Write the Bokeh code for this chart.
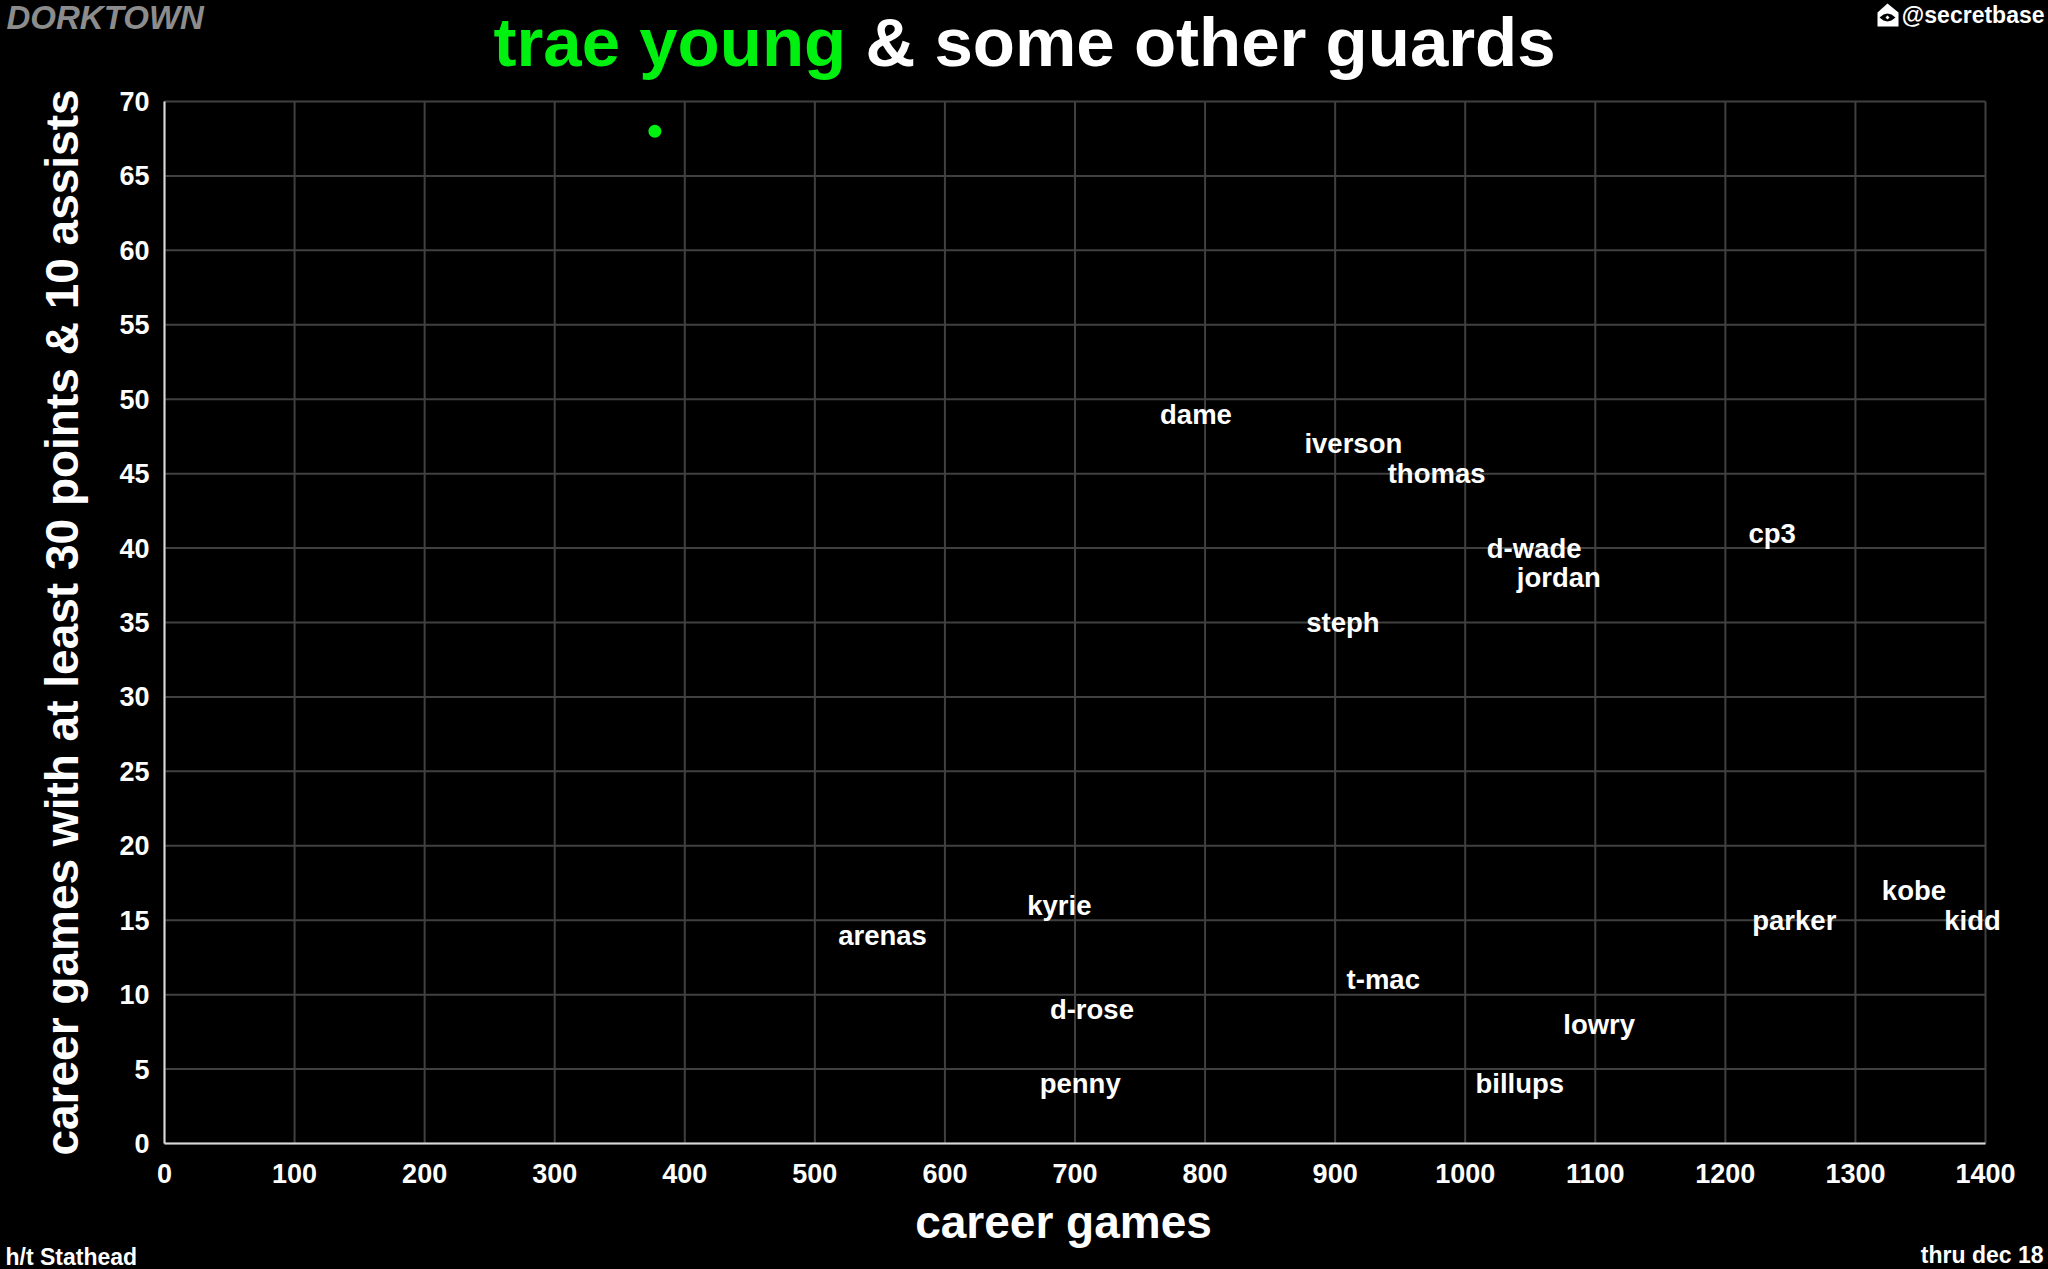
from bokeh.plotting import figure
from bokeh.models import ColumnDataSource, FixedTicker, Label, LabelSet, PolyAnnotation, Range1d
from bokeh.core.properties import value
from bokeh.embed import file_html
from bokeh.resources import INLINE

names = ["dame", "iverson", "thomas", "d-wade", "jordan", "cp3", "steph", "kyrie", "arenas",
         "kobe", "parker", "kidd", "t-mac", "d-rose", "lowry", "penny", "billups"]
career_games = [793, 914, 978, 1053, 1072, 1236, 906, 688, 552, 1345, 1253, 1390, 937, 713, 1103, 704, 1042]
games_30_10 = [49, 47, 45, 40, 38, 41, 35, 16, 14, 17, 15, 15, 11, 9, 8, 4, 4]
trae_games = [377]
trae_30_10 = [68]
x_ticks = list(range(0, 1401, 100))
y_ticks = list(range(0, 71, 5))

FONT = "Liberation Sans"
W, H = 2048, 1269
# The plot area inside the page; the frame itself fills the page so that the
# texts around the plot are not clipped by it.
LEFT, TOP, PW, PH = 164, 101, 1821, 1042
XMAX, YMAX = x_ticks[-1], y_ticks[-1]
GREEN = "#00f010"
GRID = "#404040"
AXIS = "#d9d9d9"
BASELINE_SHIFT = 0.36  # Label draws "alphabetic" text this share of its size below the anchor

x_range = Range1d(-LEFT * XMAX / PW, (W - LEFT) * XMAX / PW)
y_range = Range1d(-(H - TOP - PH) * YMAX / PH, (TOP + PH) * YMAX / PH)

p = figure(width=W, height=H, output_backend="svg", toolbar_location=None,
           x_range=x_range, y_range=y_range,
           background_fill_color="black", border_fill_color="black", outline_line_color=None,
           min_border=0, frame_width=W, frame_height=H)

p.xgrid.visible = False
p.ygrid.visible = False
p.segment(x_ticks, [0] * len(x_ticks), x_ticks, [YMAX] * len(x_ticks),
          line_color=GRID, line_width=2, level="underlay")
p.segment([0] * len(y_ticks), y_ticks, [XMAX] * len(y_ticks), y_ticks,
          line_color=GRID, line_width=2, level="underlay")

for axis, ticks, span in ((p.xaxis[0], x_ticks, (0, XMAX)), (p.yaxis[0], y_ticks, (0, YMAX))):
    axis.ticker = FixedTicker(ticks=ticks)
    axis.fixed_location = 0
    axis.bounds = span
    axis.axis_line_color = AXIS
    axis.axis_line_width = 2
    axis.major_tick_line_color = None
    axis.minor_tick_line_color = None
    axis.major_tick_out = 0
    axis.major_tick_in = 0
    axis.major_label_text_color = "white"
    axis.major_label_text_font = FONT
    axis.major_label_text_font_style = "bold"
    axis.major_label_text_font_size = "27px"
    axis.axis_label_text_color = "white"
    axis.axis_label_text_font = FONT
    axis.axis_label_text_font_style = "bold"
    axis.axis_label_text_font_size = "46px"

p.yaxis[0].axis_label = "career games with at least 30 points & 10 assists"
p.xaxis[0].major_label_standoff = 20
p.yaxis[0].major_label_standoff = 15
p.yaxis[0].axis_label_standoff = 28

src = ColumnDataSource(dict(x=career_games, y=games_30_10, name=names))
p.add_layout(LabelSet(x="x", y="y", text="name", source=src, text_color="white", text_font=value(FONT),
                      text_font_style="bold", text_font_size="27.5px", text_align="center",
                      text_baseline="middle"))
p.scatter(trae_games, trae_30_10, size=13, color=GREEN, line_color=None)


def put(text, rx, ry, size, color="white", align="left", style="bold"):
    """Place a text by its baseline position in page pixels."""
    p.add_layout(Label(x=rx, y=H - ry + BASELINE_SHIFT * size, x_units="screen", y_units="screen",
                       text=text, text_color=color, text_font=FONT, text_font_style=style,
                       text_font_size=f"{size}px", text_align=align, text_baseline="alphabetic"))


put("trae young", 493, 67, 69, GREEN)
put("& some other guards", 865, 67, 69)
put("career games", 1063, 1238, 46, align="center")
put("DORKTOWN", 6, 29, 33, "#8c8c8c", style="bold italic")
put("@secretbase", 2044, 23, 23, align="right")
put("h/t Stathead", 5, 1265, 23)
put("thru dec 18", 2043, 1263, 23, align="right")


def poly(xs, ys, color):
    p.add_layout(PolyAnnotation(xs=xs, ys=[H - y for y in ys], xs_units="screen", ys_units="screen",
                                fill_color=color, fill_alpha=1, line_color=None))


poly([1877, 1887, 1898, 1898, 1877], [12, 3, 12, 26, 26], "white")
poly([1879, 1883, 1887, 1891, 1895, 1891, 1887, 1883], [17, 14, 13, 14, 17, 20, 21, 20], "black")
poly([1885, 1887, 1889, 1887], [17, 15, 17, 19], "white")

html = file_html(p, INLINE)
html = html.replace("</head>", "<style>html,body{background:#000;overflow:hidden}</style></head>", 1)
open("out.html", "w").write(html)
